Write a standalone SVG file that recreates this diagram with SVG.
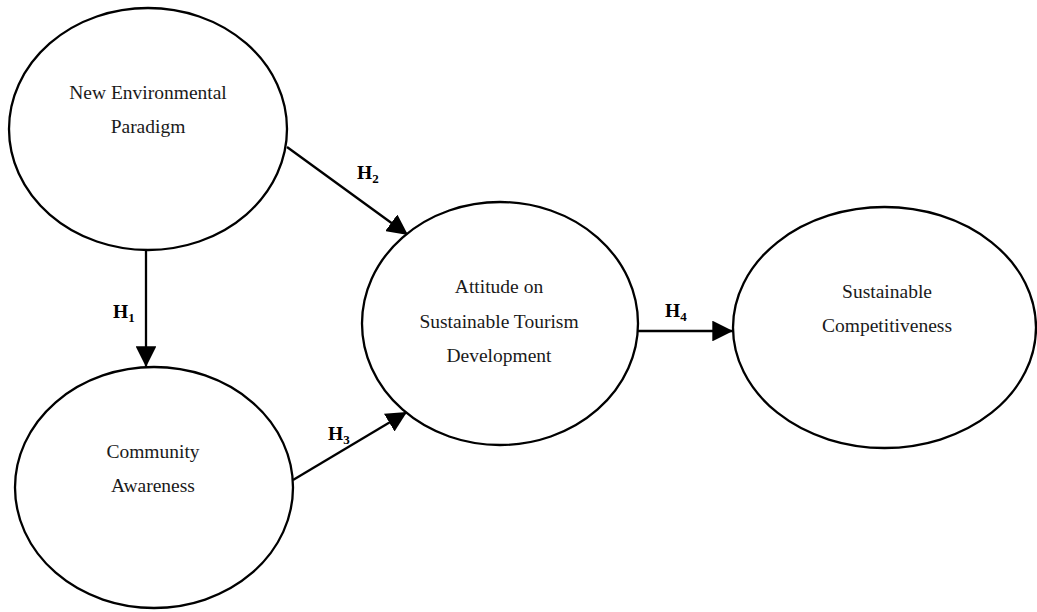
<svg xmlns="http://www.w3.org/2000/svg" width="1037" height="612" viewBox="0 0 1037 612">
<style>
.node ellipse{fill:#fff;stroke:#000;stroke-width:2.3}
.lbl{font-family:"Liberation Serif","Times New Roman",serif;font-size:19.5px;fill:#1a1a1a;text-anchor:middle}
.h{font-family:"Liberation Serif","Times New Roman",serif;font-size:19.5px;font-weight:bold;fill:#000}
.sub{font-size:13px}
.edge{stroke:#000;stroke-width:2.3;fill:none;marker-end:url(#ah)}
</style>
<defs>
<marker id="ah" viewBox="0 0 10 10" refX="10" refY="5" markerWidth="9" markerHeight="9" markerUnits="strokeWidth" orient="auto">
<path d="M0,0 L10,5 L0,10 z" fill="#000"/>
</marker>
</defs>
<rect width="1037" height="612" fill="#fff"/>
<g id="connectors">
<line class="edge" x1="146" y1="250" x2="146" y2="367"/>
<line class="edge" x1="287" y1="147" x2="408" y2="235"/>
<line class="edge" x1="293" y1="480" x2="407" y2="412"/>
<line class="edge" x1="638" y1="331" x2="733" y2="331"/>
<text class="h" x="113" y="318">H<tspan class="sub" dy="4">1</tspan></text>
<text class="h" x="357" y="179">H<tspan class="sub" dy="4">2</tspan></text>
<text class="h" x="328" y="440">H<tspan class="sub" dy="4">3</tspan></text>
<text class="h" x="665" y="317">H<tspan class="sub" dy="4">4</tspan></text>
</g>
<g id="nep" class="node">
<ellipse cx="148" cy="129" rx="139" ry="121"/>
<text class="lbl" x="148" y="99">New Environmental</text>
<text class="lbl" x="148" y="133">Paradigm</text>
</g>
<g id="ca" class="node">
<ellipse cx="154" cy="487.5" rx="139" ry="120.5"/>
<text class="lbl" x="153" y="458">Community</text>
<text class="lbl" x="153" y="492">Awareness</text>
</g>
<g id="astd" class="node">
<ellipse cx="500" cy="323.5" rx="138" ry="121.5"/>
<text class="lbl" x="499" y="293">Attitude on</text>
<text class="lbl" x="499" y="328">Sustainable Tourism</text>
<text class="lbl" x="499" y="362">Development</text>
</g>
<g id="sc" class="node">
<ellipse cx="884.5" cy="327.5" rx="151.5" ry="120.5"/>
<text class="lbl" x="887" y="298">Sustainable</text>
<text class="lbl" x="887" y="332">Competitiveness</text>
</g>
</svg>
